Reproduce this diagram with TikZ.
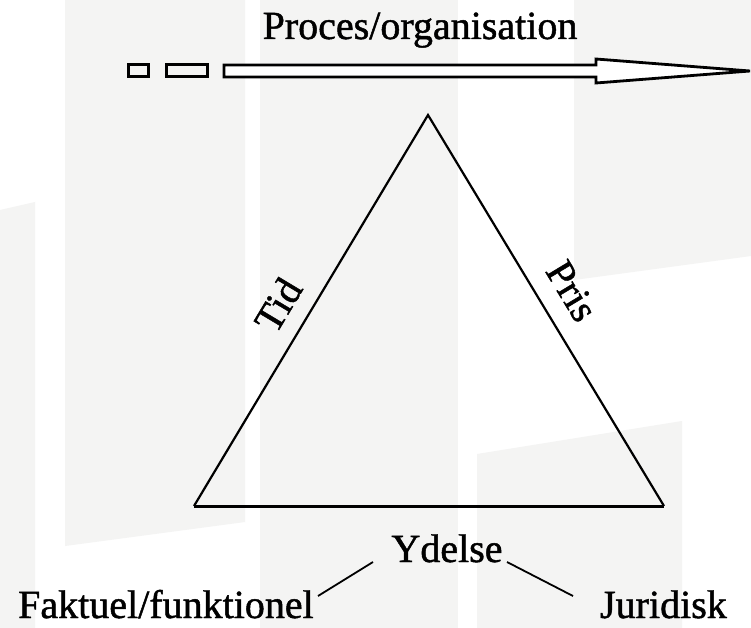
\documentclass[tikz,border=0pt]{standalone}
\usepackage{fontspec}
\setmainfont[FakeBold=1.2]{Liberation Serif}
\definecolor{bggrey}{RGB}{244,244,243}
\begin{document}
\begin{tikzpicture}[x=1bp,y=-1bp,
  lbl/.style={inner sep=0pt, font=\fontsize{40bp}{48bp}\selectfont},
  edgeline/.style={line width=2.2bp, line join=miter},
  conn/.style={line width=1.8bp},
  panel/.style={fill=bggrey, draw=none}]
\useasboundingbox (0,0) rectangle (751,628);
\fill[white] (0,0) rectangle (751,628);
% faint background panels
\path[panel] (65,0) -- (245,0) -- (245,522) -- (65,546) -- cycle;
\path[panel] (0,210) -- (35,202) -- (35,628) -- (0,628) -- cycle;
\path[panel] (260,0) rectangle (458,628);
\path[panel] (574,0) -- (751,0) -- (751,256) -- (574,280) -- cycle;
\path[panel] (477,454) -- (682,421) -- (682,628) -- (477,628) -- cycle;
% process arrow
\draw[edgeline, line width=3bp] (128,65) rectangle (148,77);
\draw[edgeline, line width=3bp] (166,65) rectangle (207,77);
\draw[edgeline, line width=2.8bp, fill=white] (224,65) -- (596,65) -- (596,59) -- (750,71) -- (596,83) -- (596,77) -- (224,77) -- cycle;
\node[lbl, anchor=base] (title) at (420,39) {Proces/organisation};
% triangle
\coordinate (apex) at (428,115);
\coordinate (bl) at (194,506);
\coordinate (br) at (664,506);
\draw[edgeline] (br) -- (apex) -- (bl);
\draw[edgeline, line width=3bp] (bl) -- (br);
\node[lbl, rotate=59.1] (tid) at (278,305) {Tid};
\node[lbl, rotate=-58.9] (pris) at (572,291) {Pris};
% performance labels
\node[lbl, anchor=base] (ydelse) at (447,562) {Ydelse};
\node[lbl, anchor=base west] (faktuel) at (18,618) {Faktuel/funktionel};
\node[lbl, anchor=base east] (juridisk) at (727,618) {Juridisk};
\coordinate (yl) at (373,562);
\coordinate (fk) at (318,596);
\coordinate (yr) at (507,562);
\coordinate (jr) at (573,596);
\draw[conn] (yl) -- (fk);
\draw[conn] (yr) -- (jr);
\end{tikzpicture}
\end{document}
